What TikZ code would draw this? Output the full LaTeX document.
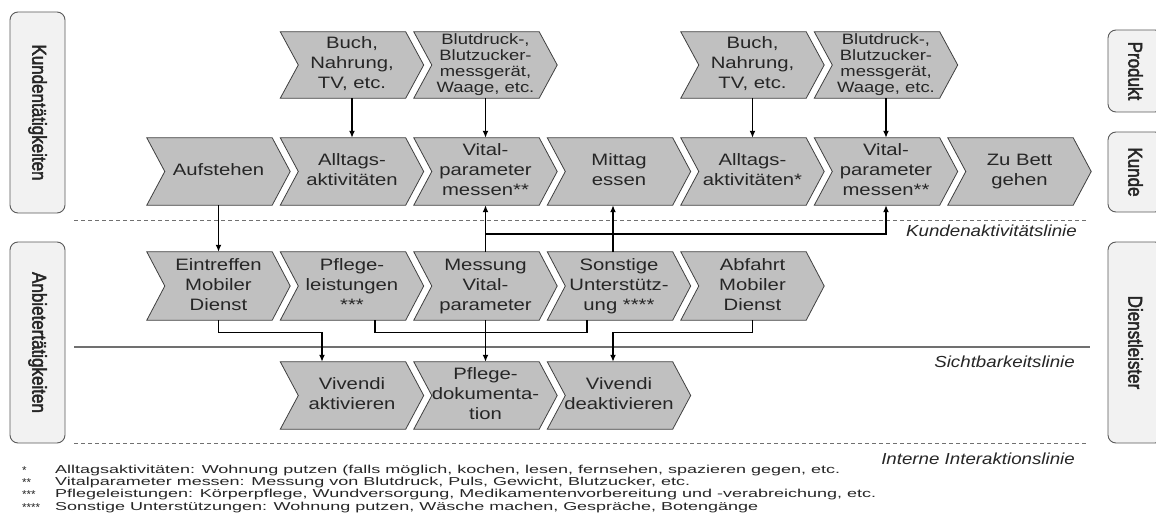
\documentclass[tikz,border=0pt]{standalone}
\usepackage{fontspec}
\setmainfont{Liberation Sans}
\newfontfamily\sidefont{Liberation Sans}[FakeBold=2.5]
\usetikzlibrary{arrows.meta,backgrounds}
\definecolor{chevfill}{HTML}{C0C0C0}
\definecolor{chevdraw}{HTML}{404040}
\definecolor{sidefill}{HTML}{F2F2F2}
\definecolor{sidedraw}{HTML}{5A5A5A}
\definecolor{txt}{HTML}{262626}
\definecolor{linecol}{HTML}{707070}
\newcommand\sx[1]{\scalebox{1.17}[1]{#1}}
\newcommand\ct[1]{\makebox[0pt]{\scalebox{1.23}[1]{\begin{tabular}{@{}c@{}}#1\end{tabular}}}}
\newsavebox\fnbox
\newlength\fnw
\newcommand\fx[1]{\scalebox{\fns}[1]{#1}}
\begin{document}
\sbox\fnbox{\fontsize{11.5}{12}\selectfont Alltagsaktivitäten: Wohnung putzen (falls möglich, kochen, lesen, fernsehen, spazieren gegen, etc.}%
\setlength\fnw{\wd\fnbox}%
\pgfmathsetmacro\fns{785pt/\fnw}%
\begin{tikzpicture}[x=1pt,y=-1pt,
 chev/.style={minimum width=107pt,minimum height=67pt,inner sep=0pt,font=\fontsize{16.5}{20}\selectfont,text=txt},
 chevsmall/.style={chev,font=\fontsize{15}{16}\selectfont},
 chevshape/.style={fill=chevfill,draw=chevdraw,line width=0.8pt,line join=miter},
 sidebox/.style={rounded corners=8pt,fill=sidefill,draw=sidedraw,line width=0.9pt,minimum width=55pt,inner sep=0pt,font=\fontsize{17}{19}\sidefont,text=txt},
 conn/.style={line width=1.4pt,-{Latex[length=7pt,width=6pt]}},
 joinline/.style={line width=1.4pt},
 dashline/.style={draw=linecol,line width=1pt,dash pattern=on 4pt off 3pt},
 solidline/.style={draw=linecol,line width=1.2pt},
 linelabel/.style={anchor=east,inner sep=0pt,font=\fontsize{16}{18}\selectfont\itshape,text=txt},
 fn/.style={anchor=west,inner sep=0pt,font=\fontsize{11.5}{12}\selectfont,text=txt},
]
\useasboundingbox (0,0) rectangle (1156,524);

% top row (Produkt)
\node[chev,minimum height=66pt] (buch1) at (352,65) {\ct{Buch,\\Nahrung,\\TV, etc.}};
\node[chevsmall,minimum height=66pt] (blut1) at (485.5,65) {\ct{Blutdruck-,\\Blutzucker-\\messgerät,\\Waage, etc.}};
\node[chev,minimum height=66pt] (buch2) at (752.5,65) {\ct{Buch,\\Nahrung,\\TV, etc.}};
\node[chevsmall,minimum height=66pt] (blut2) at (886,65) {\ct{Blutdruck-,\\Blutzucker-\\messgerät,\\Waage, etc.}};

% Kunde row
\node[chev] (aufst) at (218.5,171.5) {\ct{Aufstehen}};
\node[chev] (allt1) at (352,171.5) {\ct{Alltags-\\aktivitäten}};
\node[chev] (vital1) at (485.5,171.5) {\ct{Vital-\\parameter\\messen**}};
\node[chev] (mittag) at (619,171.5) {\ct{Mittag\\essen}};
\node[chev] (allt2) at (752.5,171.5) {\ct{Alltags-\\aktivitäten*}};
\node[chev] (vital2) at (886,171.5) {\ct{Vital-\\parameter\\messen**}};
\node[chev] (bett) at (1019.5,171.5) {\ct{Zu Bett\\gehen}};

% Dienstleister row
\node[chev,minimum height=68pt] (eintr) at (218.5,286) {\ct{Eintreffen\\Mobiler\\Dienst}};
\node[chev,minimum height=68pt] (pfl) at (352,286) {\ct{Pflege-\\leistungen\\{}***}};
\node[chev,minimum height=68pt] (mess) at (485.5,286) {\ct{Messung\\Vital-\\parameter}};
\node[chev,minimum height=68pt] (sonst) at (619,286) {\ct{Sonstige\\Unterstütz-\\ung ****}};
\node[chev,minimum height=68pt] (abf) at (752.5,286) {\ct{Abfahrt\\Mobiler\\Dienst}};

% internal row
\node[chev] (viva) at (352,395.5) {\ct{Vivendi\\aktivieren}};
\node[chev] (pdok) at (485.5,395.5) {\ct{Pflege-\\dokumenta-\\tion}};
\node[chev] (vivd) at (619,395.5) {\ct{Vivendi\\deaktivieren}};

\begin{scope}[on background layer]
\fill[white] (0,0) rectangle (1156,524);
\foreach \n in {buch1,blut1,buch2,blut2,aufst,allt1,vital1,mittag,allt2,vital2,bett,eintr,pfl,mess,sonst,abf,viva,pdok,vivd}
  \path[chevshape] ([xshift=-18pt]\n.north west) -- (\n.north east) -- ([xshift=18pt]\n.east) -- (\n.south east) -- ([xshift=-18pt]\n.south west) -- (\n.west) -- cycle;
\end{scope}

% side boxes
\node[sidebox,minimum height=201pt] (kt) at (37.5,112.5) {\sx{\rotatebox{-90}{Kundentätigkeiten}}};
\node[sidebox,minimum height=201pt] (at) at (37.5,342.5) {\sx{\rotatebox{-90}{Anbietertätigkeiten}}};
\node[sidebox,minimum height=82pt] (prod) at (1135.5,71) {\sx{\rotatebox{-90}{Produkt}}};
\node[sidebox,minimum height=80pt] (kunde) at (1135.5,172) {\sx{\rotatebox{-90}{Kunde}}};
\node[sidebox,minimum height=201pt] (dl) at (1135.5,342.5) {\sx{\rotatebox{-90}{Dienstleister}}};

% lines
\draw[dashline] (74,220) -- (1088,220);
\node[linelabel] (l1) at (1077,231) {\sx{Kundenaktivitätslinie}};
\draw[solidline] (74,347) -- (1090,347);
\node[linelabel] (l2) at (1075,362) {\sx{Sichtbarkeitslinie}};
\draw[dashline] (74,443) -- (1088,443);
\node[linelabel] (l3) at (1075,459) {\sx{Interne Interaktionslinie}};

% connectors
\draw[conn] (buch1.south) -- (allt1.north);
\draw[conn] (blut1.south) -- (vital1.north);
\draw[conn] (buch2.south) -- (allt2.north);
\draw[conn] (blut2.south) -- (vital2.north);
\draw[conn] (aufst.south) -- (eintr.north);
\draw[conn] (mess.north) -- (vital1.south);
\draw[conn] (mess.north) -- ([yshift=18pt]mess.north) -| (vital2.south);
\draw[conn] ([xshift=-6pt]sonst.north) -- ([xshift=-6pt]mittag.south);
\draw[conn] (eintr.south) -- ([yshift=-12pt]eintr.south) -| ([xshift=-30pt]viva.north);
\draw[joinline] ([xshift=23pt]pfl.south) -- ([xshift=23pt,yshift=-12pt]pfl.south) -| ([xshift=-32pt]sonst.south);
\draw[conn] (mess.south) -- (pdok.north);
\draw[conn] (abf.south) -- ([yshift=-12pt]abf.south) -| ([xshift=-6pt]vivd.north);

% footnotes
\node[fn] (s1) at (22,471) {*};
\node[fn] (s2) at (22,483) {**};
\node[fn] (s3) at (22,495) {***};
\node[fn] (s4) at (22,508) {****};
\node[fn] (f1) at (55,471) {\fx{Alltagsaktivitäten: Wohnung putzen (falls möglich, kochen, lesen, fernsehen, spazieren gegen, etc.}};
\node[fn] (f2) at (55,483) {\fx{Vitalparameter messen: Messung von Blutdruck, Puls, Gewicht, Blutzucker, etc.}};
\node[fn] (f3) at (55,495) {\fx{Pflegeleistungen: Körperpflege, Wundversorgung, Medikamentenvorbereitung und -verabreichung, etc.}};
\node[fn] (f4) at (55,508) {\fx{Sonstige Unterstützungen: Wohnung putzen, Wäsche machen, Gespräche, Botengänge}};
\end{tikzpicture}
\end{document}
